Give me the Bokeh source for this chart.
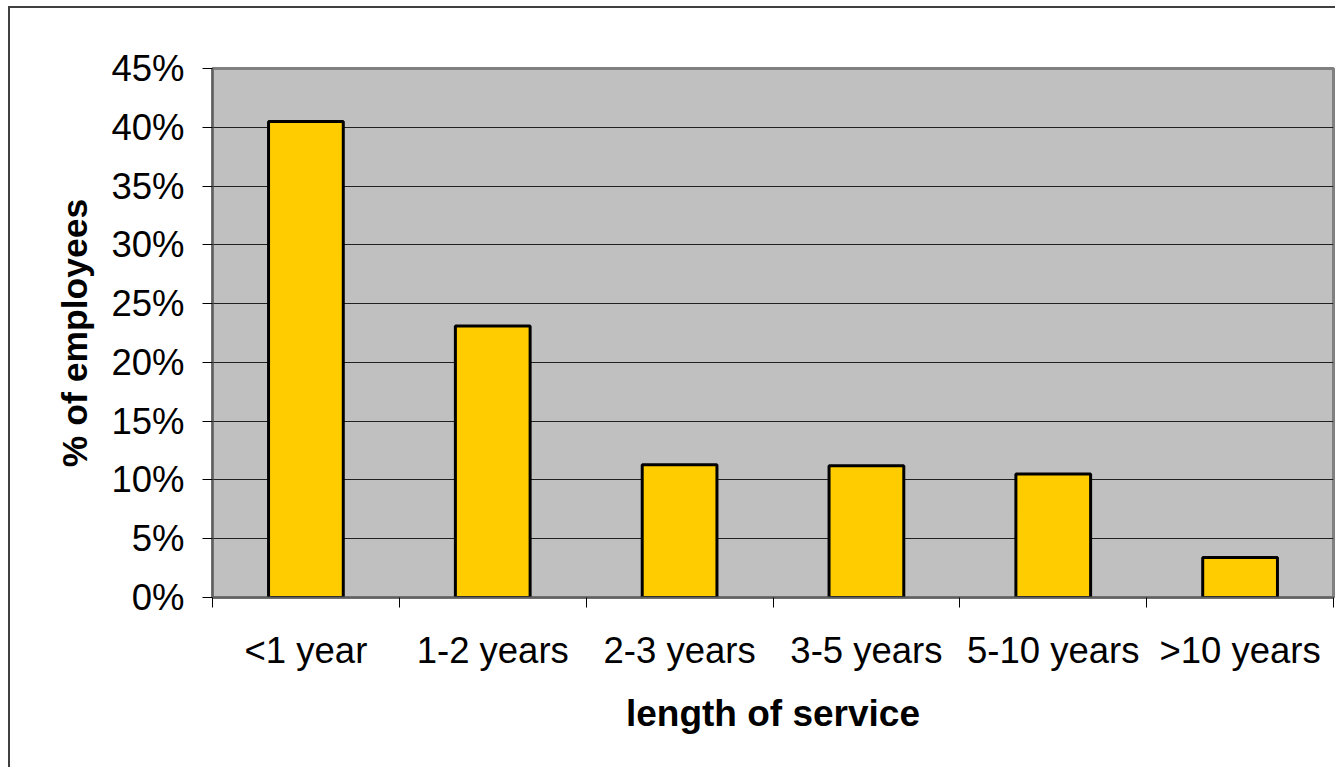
from bokeh.plotting import figure
from bokeh.models import FixedTicker, PrintfTickFormatter, ColumnDataSource, Range1d
from bokeh.embed import file_html
from bokeh.resources import INLINE

categories = ["<1 year", "1-2 years", "2-3 years", "3-5 years", "5-10 years", ">10 years"]
values = [40.5, 23.1, 11.3, 11.2, 10.5, 3.4]
y_ticks = [0, 5, 10, 15, 20, 25, 30, 35, 40, 45]

centers = [i + 0.5 for i in range(len(categories))]
src = ColumnDataSource(dict(x=centers, top=values))

p = figure(width=1327, height=761, output_backend="svg", toolbar_location=None,
           x_range=Range1d(0, len(categories)), y_range=Range1d(0, 45),
           min_border_left=202, min_border_top=60, min_border_right=4, min_border_bottom=172,
           background_fill_color="#C0C0C0", border_fill_color="white")
p.styles = {"margin-left": "8px", "margin-top": "6px",
            "border-left": "2px solid #404040", "border-top": "2px solid #404040"}
p.outline_line_color = "#808080"
p.outline_line_width = 3

p.vbar(x="x", top="top", width=0.4, bottom=0, source=src,
       fill_color="#FFCC00", line_color="black", line_width=3)

FONT = "Liberation Sans"

# x axis
p.xaxis.ticker = FixedTicker(ticks=centers, minor_ticks=list(range(len(categories) + 1)))
p.xaxis.major_label_overrides = {c: lab for c, lab in zip(centers, categories)}
p.xaxis.major_tick_line_color = None
p.xaxis.minor_tick_line_color = "black"
p.xaxis.minor_tick_out = 10
p.xaxis.minor_tick_in = 0
p.xaxis.axis_line_color = "#606060"
p.xaxis.axis_line_width = 2
p.xaxis.major_label_text_font = FONT
p.xaxis.major_label_text_font_size = "36.5px"
p.xaxis.major_label_text_color = "black"
p.xaxis.major_label_standoff = 22
p.xaxis.axis_label = "length of service"
p.xaxis.axis_label_text_font = FONT
p.xaxis.axis_label_text_font_size = "37px"
p.xaxis.axis_label_text_font_style = "bold"
p.xaxis.axis_label_text_color = "black"
p.xaxis.axis_label_standoff = 19

# y axis
p.yaxis.ticker = FixedTicker(ticks=y_ticks, minor_ticks=[])
p.yaxis.formatter = PrintfTickFormatter(format="%d%%")
p.yaxis.major_tick_line_color = "black"
p.yaxis.major_tick_out = 10
p.yaxis.major_tick_in = 0
p.yaxis.minor_tick_line_color = None
p.yaxis.axis_line_color = "#606060"
p.yaxis.axis_line_width = 2
p.yaxis.major_label_text_font = FONT
p.yaxis.major_label_text_font_size = "36.5px"
p.yaxis.major_label_text_color = "black"
p.yaxis.major_label_standoff = 18
p.yaxis.axis_label = "% of employees"
p.yaxis.axis_label_text_font = FONT
p.yaxis.axis_label_text_font_size = "35.5px"
p.yaxis.axis_label_text_font_style = "bold"
p.yaxis.axis_label_text_color = "black"
p.yaxis.axis_label_standoff = 13

p.xgrid.grid_line_color = None
p.ygrid.grid_line_color = "#202020"
p.ygrid.grid_line_width = 1

open("out.html", "w").write(file_html(p, INLINE))
